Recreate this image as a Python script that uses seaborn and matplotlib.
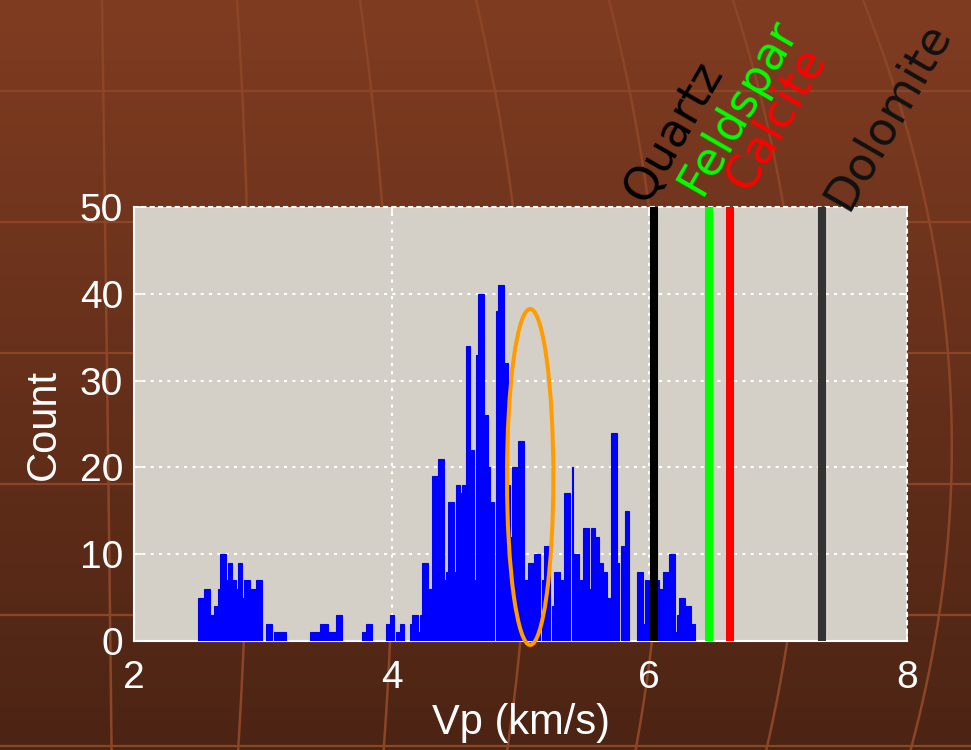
import numpy as np
import pandas as pd
import matplotlib
matplotlib.use("Agg")
import matplotlib.pyplot as plt
import seaborn as sns
from matplotlib.patches import Ellipse

# ---- data -------------------------------------------------------------
# P-wave velocity histogram: counts per bin, equal-width bins from vp_start to vp_end
vp_start = 2.5
vp_end = 6.356
counts = [
    5, 5, 5, 6, 6, 6, 3, 3, 4, 4,
    6, 10, 10, 10, 7, 9, 9, 7, 7, 6,
    9, 9, 5, 7, 7, 7, 6, 6, 6, 7,
    7, 7, 0, 0, 2, 2, 2, 0, 1, 1,
    1, 1, 1, 1, 0, 0, 0, 0, 0, 0,
    0, 0, 0, 0, 0, 0, 1, 1, 1, 1,
    1, 2, 2, 2, 2, 1, 1, 1, 1, 3,
    3, 3, 0, 0, 0, 0, 0, 0, 0, 0,
    0, 0, 1, 1, 2, 2, 2, 0, 0, 0,
    0, 0, 0, 0, 2, 2, 3, 3, 0, 1,
    1, 2, 2, 0, 0, 0, 2, 3, 3, 3,
    1, 3, 9, 9, 9, 6, 6, 19, 19, 19,
    21, 21, 21, 7, 8, 16, 16, 16, 8, 18,
    18, 17, 18, 18, 34, 34, 22, 22, 7, 33,
    40, 40, 40, 26, 26, 20, 16, 16, 0, 38,
    41, 41, 41, 32, 32, 18, 12, 20, 20, 20,
    23, 23, 23, 7, 7, 9, 9, 9, 10, 10,
    10, 0, 7, 11, 11, 11, 0, 4, 8, 8,
    8, 7, 7, 17, 17, 17, 0, 20, 10, 10,
    10, 7, 7, 13, 13, 13, 6, 13, 13, 12,
    12, 9, 9, 8, 8, 5, 5, 24, 24, 24,
    9, 0, 11, 11, 15, 15, 0, 0, 0, 0,
    8, 8, 8, 2, 7, 7, 0, 7, 7, 7,
    7, 6, 6, 8, 8, 8, 10, 10, 10, 1,
    3, 5, 5, 5, 4, 4, 4, 2, 2,
]

# reference mineral velocities (km/s)
minerals = ["Quartz", "Feldspar", "Calcite", "Dolomite"]
mineral_vp = [6.04, 6.46, 6.63, 7.34]
line_colors = ["#000000", "#00FF00", "#FF0000", "#333333"]
text_colors = ["#000000", "#00FF00", "#FF0000", "#111111"]

x_ticks = [2, 4, 6, 8]
y_ticks = [0, 10, 20, 30, 40, 50]

# highlighted velocity window (centre, width in km/s, centre count, height in counts)
gap_vp = 5.075
gap_width = 0.36
gap_count = 18.9
gap_height = 38.7

# ---- figure -----------------------------------------------------------
plt.rcParams["font.family"] = ["Liberation Sans", "DejaVu Sans"]

W, H = 971, 750
fig = plt.figure(figsize=(W / 100, H / 100), dpi=100)

# brown gradient backdrop with faint globe-like grid
bg = fig.add_axes([0, 0, 1, 1], zorder=-10)
top_rgb = np.array([128, 60, 33]) / 255
bot_rgb = np.array([76, 36, 20]) / 255
t = np.linspace(0, 1, H)[:, None, None]
grad = top_rgb * (1 - t) + bot_rgb * t
bg.imshow(np.repeat(grad, 2, axis=1), aspect="auto", extent=[0, W, H, 0])
grid_col = "#8C4526"
for yy in [91, 222, 353, 484, 615, 746]:
    bg.plot([0, W], [yy, yy], color=grid_col, lw=1.6)
meridians = [
    (102, 105, 111), (237, 247, 241), (360, 383, 387), (476, 514, 514),
    (609, 650, 644), (733, 785, 777), (863, 928, 923),
]
ys = np.linspace(0, H, 300)
for m in meridians:
    c = np.polyfit([0, 215, 700], m, 2)
    bg.plot(np.polyval(c, ys), ys, color=grid_col, lw=1.8)
bg.set_xlim(0, W)
bg.set_ylim(H, 0)
bg.axis("off")

# main histogram axes
ax = fig.add_axes([134 / W, 1 - 641 / H, (907 - 134) / W, (641 - 207) / H])
ax.set_facecolor("#D4D0C8")

n_bins = len(counts)
bin_w = (vp_end - vp_start) / n_bins
centers = vp_start + bin_w * (np.arange(n_bins) + 0.5)
hist_df = pd.DataFrame({"vp": centers, "n": counts})
sns.histplot(data=hist_df, x="vp", weights="n", binwidth=bin_w,
             binrange=(vp_start, vp_end), color="#0000FF", alpha=1,
             edgecolor="#0000FF", linewidth=0.8, ax=ax, zorder=2.6)

ax.set_xlim(2, 8)
ax.set_ylim(0, 50)
ax.set_xticks(x_ticks)
ax.set_yticks(y_ticks)
ax.set_axisbelow(True)
ax.grid(True, color="white", linestyle=(0, (1.5, 2.5)), linewidth=1.5)

for side in ["left", "bottom"]:
    ax.spines[side].set_color("white")
    ax.spines[side].set_linewidth(1.5)
for side in ["top", "right"]:
    ax.spines[side].set_color("white")
    ax.spines[side].set_linewidth(1.5)
    ax.spines[side].set_linestyle((0, (1.5, 2.5)))

ax.tick_params(direction="in", length=6, width=1.2, colors="white",
               top=True, right=True, labelsize=28, pad=8)
ax.tick_params(axis="x", pad=14)
ax.set_xlabel("Vp (km/s)", fontsize=30, color="white", labelpad=5)
ax.set_ylabel("Count", fontsize=30, color="white", labelpad=11)

# mineral reference lines and labels
ax.vlines(mineral_vp, 0, 50, colors=line_colors, linewidth=5.8, zorder=4)
label_offsets = [(-8, 2), (-8, 10), (17, 14), (25, -5)]
for name, vp, col, off in zip(minerals, mineral_vp, text_colors, label_offsets):
    ax.annotate(name, xy=(vp, 50), xytext=off, textcoords="offset pixels",
                rotation=60, rotation_mode="anchor", ha="left", va="baseline",
                fontsize=33, family="DejaVu Sans", color=col,
                annotation_clip=False)

ax.add_patch(Ellipse((gap_vp, gap_count), gap_width, gap_height, fill=False,
                     edgecolor="#FF9C00", linewidth=2.9, zorder=5, clip_on=False))

fig.savefig("out.png", dpi=100)
